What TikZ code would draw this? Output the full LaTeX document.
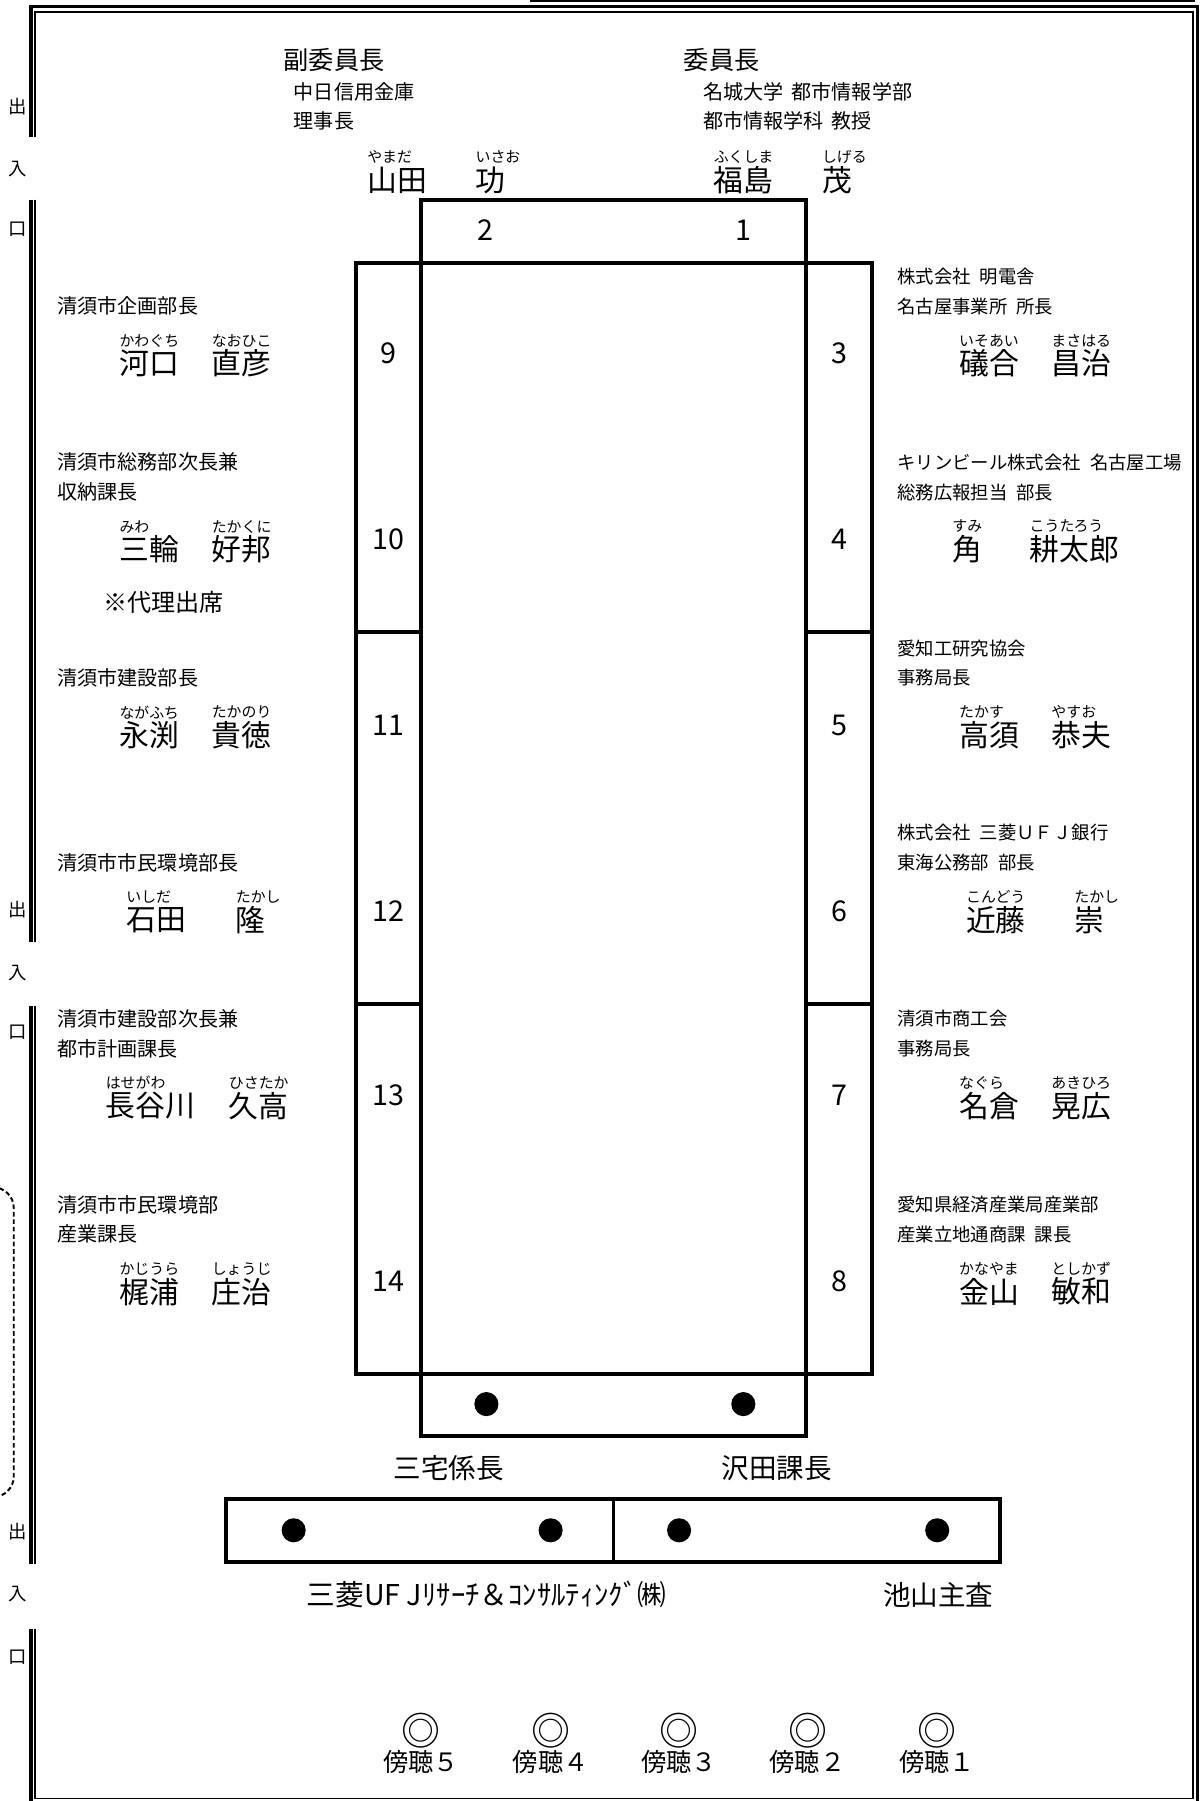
\documentclass[tikz,border=0pt]{standalone}
\usepackage{fontspec}
\setmainfont{Noto Sans CJK JP}
\usetikzlibrary{positioning}

\begin{document}
\begin{tikzpicture}[
  x=1pt, y=-1pt,
  every node/.style={inner sep=0pt},
  ttl/.style={anchor=west, font=\fontsize{22}{24}\selectfont},
  txt/.style={anchor=west, font=\fontsize{17.5}{20}\selectfont},
  txtr/.style={anchor=west, font=\fontsize{16}{18}\selectfont},
  nm/.style={anchor=west, font=\fontsize{26}{28}\selectfont},
  rb/.style={anchor=west, font=\fontsize{13}{14}\selectfont},
  num/.style={font=\fontsize{25}{26}\selectfont},
  staff/.style={font=\fontsize{24}{26}\selectfont},
  obs/.style={font=\fontsize{22}{24}\selectfont},
  ring/.style={font=\fontsize{34}{34}\selectfont},
  door/.style={font=\fontsize{16}{16}\selectfont},
  seat/.style={circle, fill, minimum size=21pt},
  desk/.style={line width=3.5pt},
  wall/.style={line width=2.8pt},
  wallin/.style={line width=1.3pt},
]
\useasboundingbox (0,0) rectangle (1049,1570);

% walls and doors
\draw[line width=1.3pt] (462,1) -- (1042,1);
\draw[wall] (27,119) -- (27,6) -- (1044,6) -- (1044,1590);
\draw[wall] (27,174) -- (27,821);
\draw[wall] (27,877) -- (27,1363);
\draw[wall] (27,1420) -- (27,1590);
\draw[wallin] (30.5,119) -- (30.5,10.5) -- (1040,10.5) -- (1040,1568) -- (30.5,1568) -- (30.5,1420);
\draw[wallin] (30.5,174) -- (30.5,821);
\draw[wallin] (30.5,877) -- (30.5,1363);
\draw[line width=1.7pt, dash pattern=on 4pt off 2.5pt, rounded corners=18pt] (-40,1035) rectangle (12,1305);
\node[door] (e1) at (15,93) {出};
\node[door] (e2) at (15,147) {入};
\node[door] (e3) at (15,200) {口};
\node[door] (e4) at (15,793) {出};
\node[door] (e5) at (15,848) {入};
\node[door] (e6) at (15,900) {口};
\node[door] (e7) at (15,1335) {出};
\node[door] (e8) at (15,1390) {入};
\node[door] (e9) at (15,1445) {口};

% desks
\draw[desk] (367,174) rectangle (703,1252);
\draw[desk] (367,229) -- (703,229);
\draw[desk] (367,1198) -- (703,1198);
\draw[desk] (310,229) rectangle (367,1198);
\draw[desk] (703,229) rectangle (760,1198);
\draw[desk] (310,551) -- (367,551) (310,875) -- (367,875)
  (703,551) -- (760,551) (703,875) -- (760,875);
\draw[desk] (197,1307) rectangle (872,1362);
\draw[line width=2.5pt] (535,1307) -- (535,1362);

\node[num] (s2) at (423,201) {2};
\node[num] (s1) at (648,201) {1};
\node[num] (s9) at (339,308) {9};
\node[num] (s10) at (339,470) {10};
\node[num] (s11) at (339,632) {11};
\node[num] (s12) at (339,794) {12};
\node[num] (s13) at (339,955) {13};
\node[num] (s14) at (339,1117) {14};
\node[num] (s3) at (732,308) {3};
\node[num] (s4) at (732,470) {4};
\node[num] (s5) at (732,632) {5};
\node[num] (s6) at (732,794) {6};
\node[num] (s7) at (732,955) {7};
\node[num] (s8) at (732,1117) {8};

% chair and vice chair
\node[ttl] (vc) at (247,52) {副委員長};
\node[txt] (vc1) at (256,80) {中日信用金庫};
\node[txt] (vc2) at (256,105) {理事長};
\node[nm] (n2a) at (320,157) {山田};
\node[nm, right=42pt of n2a] (n2b) {功};
\node[rb] (r2a) at ([yshift=20pt]n2a.west) {やまだ};
\node[rb] (r2b) at ([yshift=20pt]n2b.west) {いさお};

\node[ttl] (ch) at (596,52) {委員長};
\node[txt] (ch1) at (613,80) {名城大学\hspace{.4em}都市情報学部};
\node[txt] (ch2) at (613,105) {都市情報学科\hspace{.4em}教授};
\node[nm] (n1a) at (622,157) {福島};
\node[nm, right=42pt of n1a] (n1b) {茂};
\node[rb] (r1a) at ([yshift=20pt]n1a.west) {ふくしま};
\node[rb] (r1b) at ([yshift=20pt]n1b.west) {しげる};

% left side
\node[txt] (t9) at (50,267) {清須市企画部長};
\node[nm] (n9a) at (104,317) {河口};
\node[nm, right=28pt of n9a] (n9b) {直彦};
\node[rb] (r9a) at ([yshift=20pt]n9a.west) {かわぐち};
\node[rb] (r9b) at ([yshift=20pt]n9b.west) {なおひこ};

\node[txt] (t10) at (50,403) {清須市総務部次長兼};
\node[txt] (t10b) at (50,429) {収納課長};
\node[nm] (n10a) at (104,479) {三輪};
\node[nm, right=28pt of n10a] (n10b) {好邦};
\node[rb] (r10a) at ([yshift=20pt]n10a.west) {みわ};
\node[rb] (r10b) at ([yshift=20pt]n10b.west) {たかくに};
\node[anchor=west, font=\fontsize{21}{22}\selectfont] (p10) at (90,525) {※代理出席};

\node[txt] (t11) at (50,591) {清須市建設部長};
\node[nm] (n11a) at (104,641) {永渕};
\node[nm, right=28pt of n11a] (n11b) {貴徳};
\node[rb] (r11a) at ([yshift=20pt]n11a.west) {ながふち};
\node[rb] (r11b) at ([yshift=20pt]n11b.west) {たかのり};

\node[txt] (t12) at (50,752) {清須市市民環境部長};
\node[nm] (n12a) at (110,802) {石田};
\node[nm, right=43pt of n12a] (n12b) {隆};
\node[rb] (r12a) at ([yshift=20pt]n12a.west) {いしだ};
\node[rb] (r12b) at ([yshift=20pt]n12b.west) {たかし};

\node[txt] (t13) at (50,888) {清須市建設部次長兼};
\node[txt] (t13b) at (50,914) {都市計画課長};
\node[nm] (n13a) at (92,964) {長谷川};
\node[nm, right=29pt of n13a] (n13b) {久高};
\node[rb] (r13a) at ([yshift=20pt]n13a.west) {はせがわ};
\node[rb] (r13b) at ([yshift=20pt]n13b.west) {ひさたか};

\node[txt] (t14) at (50,1050) {清須市市民環境部};
\node[txt] (t14b) at (50,1076) {産業課長};
\node[nm] (n14a) at (104,1126) {梶浦};
\node[nm, right=28pt of n14a] (n14b) {庄治};
\node[rb] (r14a) at ([yshift=20pt]n14a.west) {かじうら};
\node[rb] (r14b) at ([yshift=20pt]n14b.west) {しょうじ};

% right side
\node[txtr] (t3) at (782,241) {株式会社\hspace{.5em}明電舎};
\node[txtr] (t3b) at (782,267) {名古屋事業所\hspace{.5em}所長};
\node[nm] (n3a) at (836,317) {礒合};
\node[nm, right=28pt of n3a] (n3b) {昌治};
\node[rb] (r3a) at ([yshift=20pt]n3a.west) {いそあい};
\node[rb] (r3b) at ([yshift=20pt]n3b.west) {まさはる};

\node[txtr] (t4) at (782,403) {キリンビール株式会社\hspace{.5em}名古屋工場};
\node[txtr] (t4b) at (782,429) {総務広報担当\hspace{.5em}部長};
\node[nm] (n4a) at (830,479) {角};
\node[nm, right=41pt of n4a] (n4b) {耕太郎};
\node[rb] (r4a) at ([yshift=20pt]n4a.west) {すみ};
\node[rb] (r4b) at ([yshift=20pt]n4b.west) {こうたろう};

\node[txtr] (t5) at (782,565) {愛知工研究協会};
\node[txtr] (t5b) at (782,591) {事務局長};
\node[nm] (n5a) at (836,641) {高須};
\node[nm, right=28pt of n5a] (n5b) {恭夫};
\node[rb] (r5a) at ([yshift=20pt]n5a.west) {たかす};
\node[rb] (r5b) at ([yshift=20pt]n5b.west) {やすお};

\node[txtr] (t6) at (782,726) {株式会社\hspace{.5em}三菱ＵＦＪ銀行};
\node[txtr] (t6b) at (782,752) {東海公務部\hspace{.5em}部長};
\node[nm] (n6a) at (842,802) {近藤};
\node[nm, right=42pt of n6a] (n6b) {崇};
\node[rb] (r6a) at ([yshift=20pt]n6a.west) {こんどう};
\node[rb] (r6b) at ([yshift=20pt]n6b.west) {たかし};

\node[txtr] (t7) at (782,888) {清須市商工会};
\node[txtr] (t7b) at (782,914) {事務局長};
\node[nm] (n7a) at (836,964) {名倉};
\node[nm, right=28pt of n7a] (n7b) {晃広};
\node[rb] (r7a) at ([yshift=20pt]n7a.west) {なぐら};
\node[rb] (r7b) at ([yshift=20pt]n7b.west) {あきひろ};

\node[txtr] (t8) at (782,1050) {愛知県経済産業局産業部};
\node[txtr] (t8b) at (782,1076) {産業立地通商課\hspace{.5em}課長};
\node[nm] (n8a) at (836,1126) {金山};
\node[nm, right=28pt of n8a] (n8b) {敏和};
\node[rb] (r8a) at ([yshift=20pt]n8a.west) {かなやま};
\node[rb] (r8b) at ([yshift=20pt]n8b.west) {としかず};

% staff
\node[seat] (d1) at (424,1224) {};
\node[seat] (d2) at (648,1224) {};
\node[staff] (m1) at (391,1280) {三宅係長};
\node[staff] (m2) at (677,1280) {沢田課長};
\node[seat] (d3) at (256,1334) {};
\node[seat] (d4) at (480,1334) {};
\node[seat] (d5) at (592,1334) {};
\node[seat] (d6) at (817,1334) {};
\node[staff, font=\fontsize{25}{26}\selectfont] (m3) at (424,1390) {三菱UF Jﾘｻｰﾁ＆ｺﾝｻﾙﾃｨﾝｸﾞ㈱};
\node[staff] (m4) at (818,1390) {池山主査};

% audience
\node[ring] (a5) at (367,1509) {◎};
\node[ring] (a4) at (480,1509) {◎};
\node[ring] (a3) at (592,1509) {◎};
\node[ring] (a2) at (704,1509) {◎};
\node[ring] (a1) at (817,1509) {◎};
\node[obs] (b5) at (367,1536) {傍聴５};
\node[obs] (b4) at (480,1536) {傍聴４};
\node[obs] (b3) at (592,1536) {傍聴３};
\node[obs] (b2) at (704,1536) {傍聴２};
\node[obs] (b1) at (817,1536) {傍聴１};
\end{tikzpicture}
\end{document}
